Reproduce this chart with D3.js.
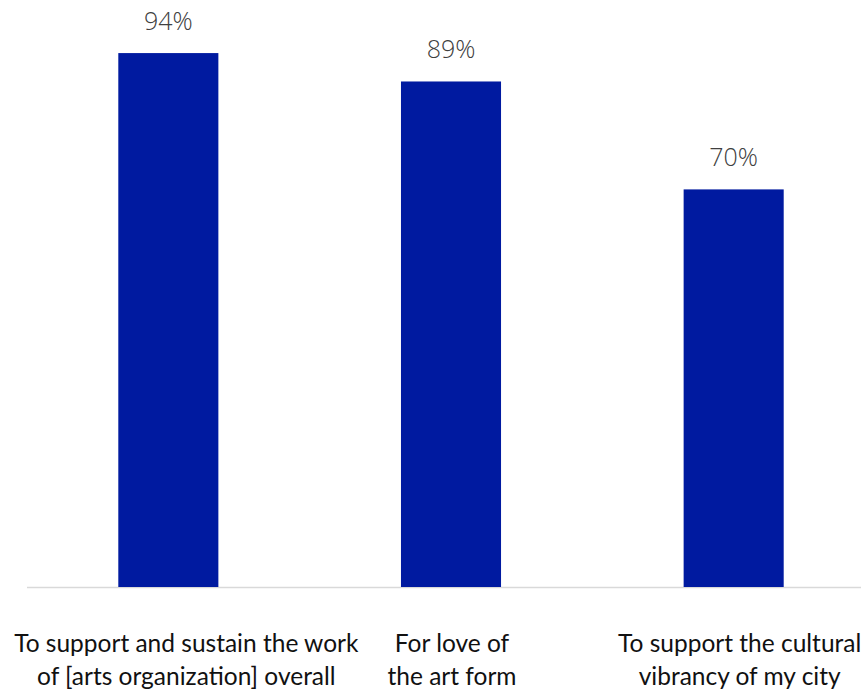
<!DOCTYPE html>
<html>
<head>
<meta charset="utf-8">
<script src="https://cdn.jsdelivr.net/npm/d3@7"></script>
<style>
  html, body { margin: 0; padding: 0; background: #fff; }
  svg { display: block; }
</style>
</head>
<body>
<svg id="chart" width="861" height="692"></svg>
<script>
// Reasons for giving, share of respondents
const categories = [
  ["To support and sustain the work", "of [arts organization] overall"],
  ["For love of", "the art form"],
  ["To support the cultural", "vibrancy of my city"]
];
const values = [94, 89, 70];

const width = 861, height = 692;
const baseY = 587;
const svg = d3.select("#chart");

const x = d3.scaleBand()
  .domain(d3.range(categories.length))
  .range([27, 875])
  .paddingInner(0.646)
  .paddingOuter(0.323);

const y = d3.scaleLinear().domain([0, 100]).range([baseY, baseY - 568]);

// baseline
svg.append("line")
  .attr("x1", 27).attr("x2", width)
  .attr("y1", baseY + 0.5).attr("y2", baseY + 0.5)
  .attr("stroke", "#d9d9d9").attr("stroke-width", 1.5);

// bars
svg.selectAll("rect.bar")
  .data(values)
  .join("rect")
  .attr("class", "bar")
  .attr("x", (d, i) => x(i))
  .attr("width", x.bandwidth())
  .attr("y", d => y(d))
  .attr("height", d => y(0) - y(d))
  .attr("fill", "#001aa0");

// value labels
svg.selectAll("text.val")
  .data(values)
  .join("text")
  .attr("class", "val")
  .attr("x", (d, i) => x(i) + x.bandwidth() / 2)
  .attr("y", d => y(d) - 23)
  .attr("text-anchor", "middle")
  .attr("font-family", "'Open Sans', sans-serif")
  .attr("font-weight", 300)
  .attr("font-size", 25)
  .attr("fill", "#404040")
  .text(d => d + "%");

// category labels (two lines each)
const labelShift = [18, 1, 6];
const cat = svg.selectAll("text.cat")
  .data(categories)
  .join("text")
  .attr("class", "cat")
  .attr("text-anchor", "middle")
  .attr("font-family", "Lato, sans-serif")
  .attr("font-size", 24.5)
  .attr("fill", "#111");
cat.selectAll("tspan")
  .data((d, i) => d.map(line => ({ line, i })))
  .join("tspan")
  .attr("x", d => x(d.i) + x.bandwidth() / 2 + labelShift[d.i])
  .attr("y", (d, j) => 652 + j * 33)
  .text(d => d.line);
</script>
</body>
</html>
